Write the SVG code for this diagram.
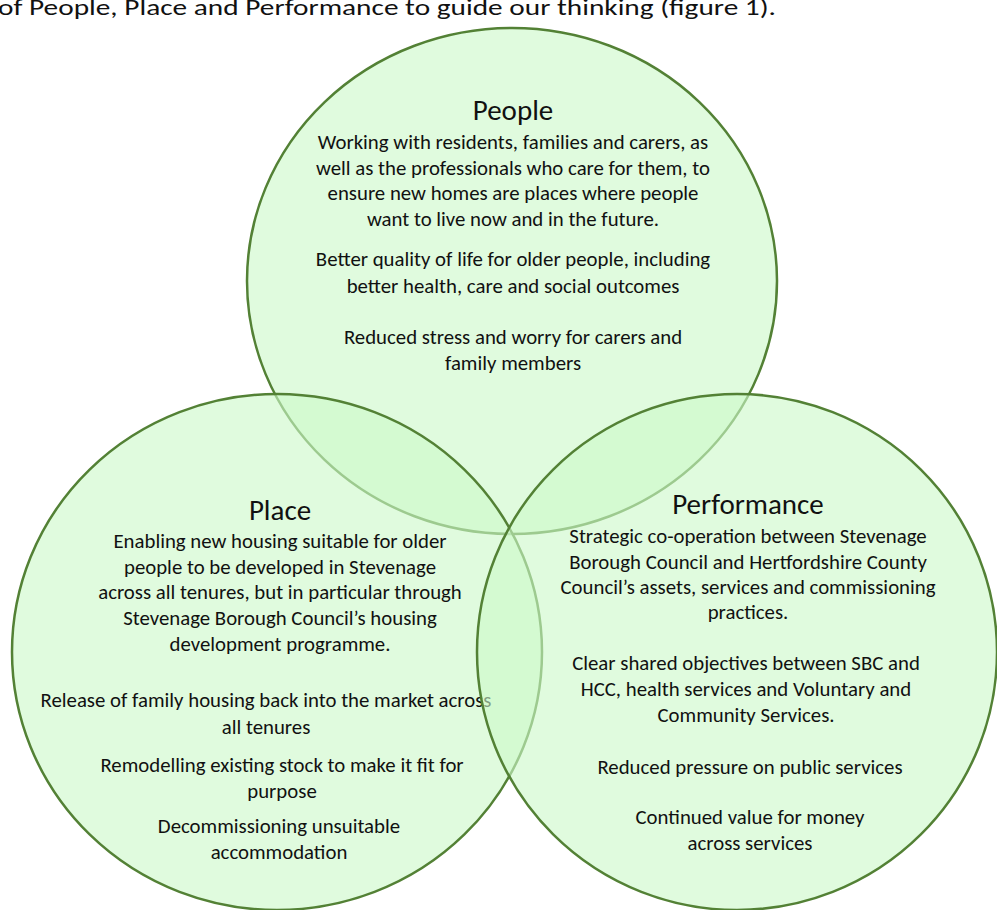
<svg xmlns="http://www.w3.org/2000/svg" width="997" height="910" viewBox="0 0 997 910">
<style>
.c{fill:rgb(204,248,201);fill-opacity:0.61;stroke:#538135;stroke-width:2.5}
text{font-family:Carlito,Lato,"Liberation Sans",sans-serif;fill:#111;text-anchor:middle}
.h{font-size:29px}
.b{font-size:20.8px}
</style>
<rect width="997" height="910" fill="#fff"/>
<text x="-2" y="15" style="text-anchor:start;font-size:23px" textLength="778" lengthAdjust="spacingAndGlyphs">of People, Place and Performance to guide our thinking (figure 1).</text>
<g id="people">
<ellipse class="c" cx="512" cy="281" rx="265" ry="253"/>
<text class="h" x="513" y="120">People</text>
<text class="b" x="513" y="149">Working with residents, families and carers, as</text>
<text class="b" x="513" y="175">well as the professionals who care for them, to</text>
<text class="b" x="513" y="200">ensure new homes are places where people</text>
<text class="b" x="513" y="226">want to live now and in the future.</text>
<text class="b" x="513" y="266">Better quality of life for older people, including</text>
<text class="b" x="513" y="293">better health, care and social outcomes</text>
<text class="b" x="513" y="344">Reduced stress and worry for carers and</text>
<text class="b" x="513" y="370">family members</text>
</g>
<g id="place">
<ellipse class="c" cx="277" cy="652" rx="265" ry="258"/>
<text class="h" x="280" y="520">Place</text>
<text class="b" x="280" y="548">Enabling new housing suitable for older</text>
<text class="b" x="280" y="574">people to be developed in Stevenage</text>
<text class="b" x="280" y="599">across all tenures, but in particular through</text>
<text class="b" x="280" y="625">Stevenage Borough Council’s housing</text>
<text class="b" x="280" y="651">development programme.</text>
<text class="b" x="266" y="707">Release of family housing back into the market across</text>
<text class="b" x="266" y="734">all tenures</text>
<text class="b" x="282" y="772">Remodelling existing stock to make it fit for</text>
<text class="b" x="282" y="798">purpose</text>
<text class="b" x="279" y="833">Decommissioning unsuitable</text>
<text class="b" x="279" y="859">accommodation</text>
</g>
<g id="performance">
<ellipse class="c" cx="737" cy="652" rx="260" ry="258"/>
<text class="h" x="748" y="514">Performance</text>
<text class="b" x="748" y="543">Strategic co-operation between Stevenage</text>
<text class="b" x="748" y="569">Borough Council and Hertfordshire County</text>
<text class="b" x="748" y="594">Council’s assets, services and commissioning</text>
<text class="b" x="748" y="619">practices.</text>
<text class="b" x="746" y="670">Clear shared objectives between SBC and</text>
<text class="b" x="746" y="696">HCC, health services and Voluntary and</text>
<text class="b" x="746" y="722">Community Services.</text>
<text class="b" x="750" y="774">Reduced pressure on public services</text>
<text class="b" x="750" y="824">Continued value for money</text>
<text class="b" x="750" y="850">across services</text>
</g>
<g id="connectors"/>
</svg>
